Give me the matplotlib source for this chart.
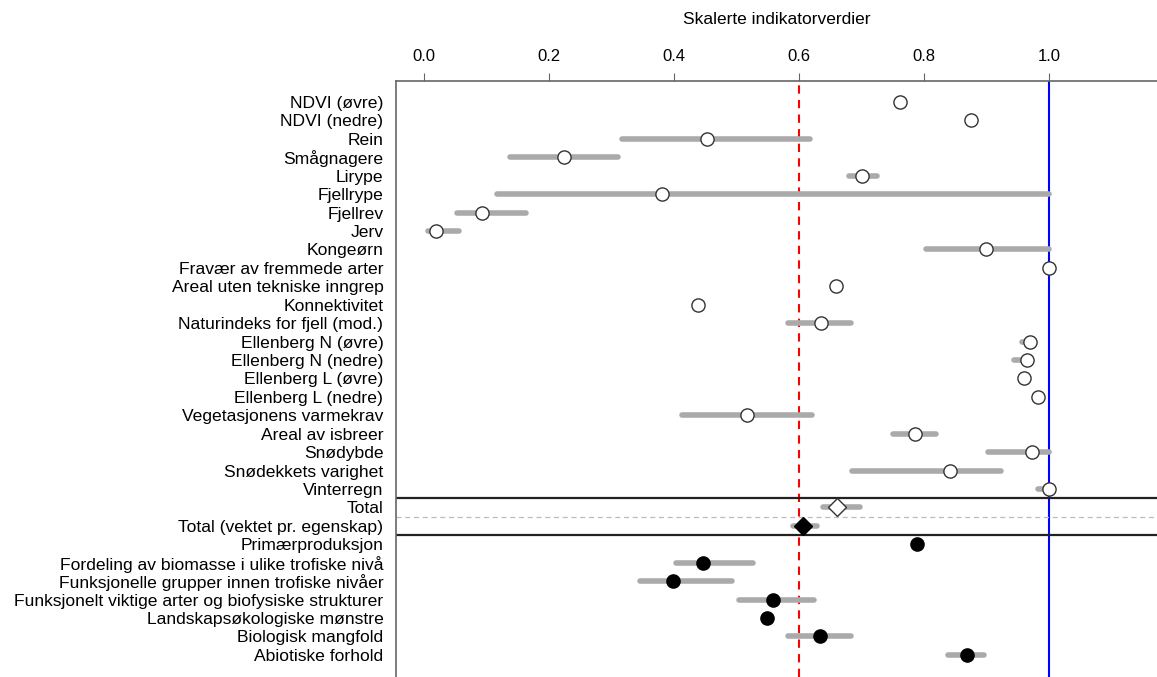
import numpy as np
import matplotlib
matplotlib.use("Agg")
import matplotlib.pyplot as plt

plt.rcParams['font.family'] = ['Liberation Sans', 'DejaVu Sans']

labels = [
    "NDVI (øvre)", "NDVI (nedre)", "Rein", "Smågnagere", "Lirype", "Fjellrype",
    "Fjellrev", "Jerv", "Kongeørn", "Fravær av fremmede arter",
    "Areal uten tekniske inngrep", "Konnektivitet", "Naturindeks for fjell (mod.)",
    "Ellenberg N (øvre)", "Ellenberg N (nedre)", "Ellenberg L (øvre)",
    "Ellenberg L (nedre)", "Vegetasjonens varmekrav", "Areal av isbreer",
    "Snødybde", "Snødekkets varighet", "Vinterregn",
    "Total", "Total (vektet pr. egenskap)",
    "Primærproduksjon", "Fordeling av biomasse i ulike trofiske nivå",
    "Funksjonelle grupper innen trofiske nivåer",
    "Funksjonelt viktige arter og biofysiske strukturer",
    "Landskapsøkologiske mønstre", "Biologisk mangfold", "Abiotiske forhold",
]

# indicator values (median) with lower/upper interval, nan = no interval
ind_val = [0.762, 0.875, 0.453, 0.224, 0.701, 0.380, 0.093, 0.019, 0.899, 1.0,
           0.659, 0.438, 0.635, 0.970, 0.964, 0.960, 0.983, 0.516, 0.785, 0.973,
           0.841, 1.0]
ind_lo = [np.nan, np.nan, 0.317, 0.138, 0.680, 0.116, 0.053, 0.006, 0.803, np.nan,
          np.nan, np.nan, 0.583, 0.956, 0.944, np.nan, np.nan, 0.412, 0.751, 0.903,
          0.685, 0.982]
ind_hi = [np.nan, np.nan, 0.617, 0.311, 0.725, 1.0, 0.163, 0.056, 1.0, np.nan,
          np.nan, np.nan, 0.683, 0.970, 0.964, np.nan, np.nan, 0.621, 0.819, 1.0,
          0.923, 1.0]

tot_val = [0.660, 0.606]
tot_lo = [0.638, 0.590]
tot_hi = [0.697, 0.628]

egn_val = [0.789, 0.446, 0.399, 0.559, 0.548, 0.633, 0.869]
egn_lo = [np.nan, 0.403, 0.346, 0.504, np.nan, 0.583, 0.839]
egn_hi = [np.nan, 0.526, 0.492, 0.624, np.nan, 0.683, 0.896]

ref_line = 0.6
full_line = 1.0

fig = plt.figure(figsize=(11.57, 6.77), dpi=100)
ax = fig.add_axes([396 / 1157, 0, 1 - 396 / 1157, 1 - 81 / 677])

n = len(labels)
y = np.arange(n)
y_ind = y[:22]
y_tot = y[22:24]
y_egn = y[24:]

ax.axvline(ref_line, color='red', ls=(0, (4, 3)), lw=1.5, zorder=1)
ax.axvline(full_line, color='blue', lw=1.5, zorder=1)

for yy in (21.5, 23.5):
    ax.axhline(yy, color='#222222', lw=1.6, zorder=1)
ax.axhline(22.5, color='#bbbbbb', lw=0.9, ls=(0, (4, 3)), zorder=1)

bar_kw = dict(color='#aaaaaa', lw=4, capstyle='round', zorder=2)
ax.hlines(y_ind, ind_lo, ind_hi, **bar_kw)
ax.hlines(y_tot, tot_lo, tot_hi, **bar_kw)
ax.hlines(y_egn, egn_lo, egn_hi, **bar_kw)

ax.plot(ind_val, y_ind, 'o', ms=9.5, mfc='white', mec='#333333', mew=1, ls='none', zorder=3)
ax.plot(tot_val[0], y_tot[0], 'D', ms=9, mfc='white', mec='#333333', mew=1, zorder=3)
ax.plot(tot_val[1], y_tot[1], 'D', ms=9, mfc='black', mec='black', mew=1, zorder=3)
ax.plot(egn_val, y_egn, 'o', ms=9.5, mfc='black', mec='black', ls='none', zorder=3)

ax.set_xlim((396 - 424) / 625, (1157 - 424) / 625)
ax.set_ylim(31.2, -1.14)
ax.set_yticks(y)
ax.set_yticklabels(labels, fontsize=12.6)
ax.tick_params(axis='y', length=0, pad=9)
ax.set_xticks([0.0, 0.2, 0.4, 0.6, 0.8, 1.0])
ax.set_xticklabels(["0.0", "0.2", "0.4", "0.6", "0.8", "1.0"], fontsize=12)
ax.xaxis.tick_top()
ax.tick_params(axis='x', direction='out', length=6, color='#666666', pad=6)

for s in ('right', 'bottom'):
    ax.spines[s].set_visible(False)
for s in ('left', 'top'):
    ax.spines[s].set_color('#666666')
    ax.spines[s].set_linewidth(1.2)

fig.text((396 + 1157) / 2 / 1157, 1 - 19 / 677, "Skalerte indikatorverdier",
         ha='center', va='center', fontsize=12.5)

fig.savefig("out.png", dpi=100)
